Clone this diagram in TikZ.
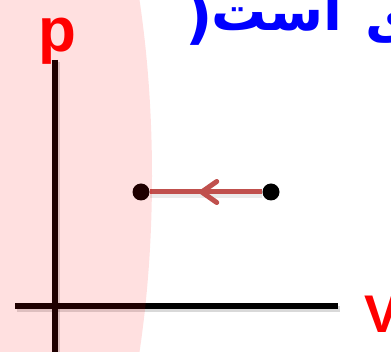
\documentclass[tikz,border=0pt]{standalone}
\usepackage{fontspec}
\setmainfont{Liberation Sans}
\newfontfamily\arabicfont[Script=Arabic]{DejaVu Sans}
\TeXXeTstate=1
\usetikzlibrary{arrows.meta,decorations.markings}
\definecolor{lblred}{RGB}{255,0,0}
\definecolor{lineRed}{RGB}{192,80,77}
\definecolor{titleblue}{RGB}{0,0,255}
\begin{document}
\begin{tikzpicture}[x=1pt,y=-1pt,
  axis/.style={line width=5.5pt, black},
  shadowline/.style={line width=6pt, black, opacity=0.15},
  dot/.style={circle, fill=black, inner sep=0pt, minimum size=17pt},
  redline/.style={line width=5pt, lineRed, postaction={decorate},
    decoration={markings, mark=at position 0.56 with {\arrow{Straight Barb[length=15pt, width=21pt, line width=5pt, round]}}}},
  lbl/.style={text=lblred, inner sep=0pt, font=\bfseries\fontsize{#1}{#1}\selectfont},
  fa/.style={text=titleblue, inner sep=0pt, anchor=base west, font=\arabicfont\bfseries\fontsize{#1}{#1}\selectfont}]
\useasboundingbox (0,0) rectangle (391,352);
\clip (0,0) rectangle (391,352);
% axes
\coordinate (yTop) at (55,60);
\coordinate (yBot) at (55,352);
\coordinate (xL) at (15,306);
\coordinate (xR) at (338,306);
\draw[shadowline] ([shift={(1.5pt,-3pt)}]xL) -- ([shift={(1.5pt,-3pt)}]xR);
\draw[shadowline] ([shift={(2pt,-2pt)}]yTop) -- ([shift={(2pt,-2pt)}]yBot);
\draw[axis] (yTop) -- (yBot);
\draw[axis] (xL) -- (xR);
% process
\node[dot] (A) at (141,192) {};
\node[dot] (B) at (271,192) {};
\draw[line width=5pt, black, opacity=0.08] ([yshift=-4pt]B.west) -- ([yshift=-4pt]A.east);
\draw[redline] (B) -- (A);
% pink region
\fill[red, opacity=0.12] (2,176) ellipse [x radius=150pt, y radius=440pt];
% labels
\node[lbl=62, anchor=base] (p) at (57.5,52) {p};
\node[lbl=53, anchor=base west] (V) at (364,333) {V};
\node[fa=55] (t1) at (211,31) {\beginR است\endR};
\node[fa=55] (t2) at (365,38) {\beginR ی\endR};
\node[fa=60] (paren) at (185,38) {(};
\end{tikzpicture}
\end{document}
